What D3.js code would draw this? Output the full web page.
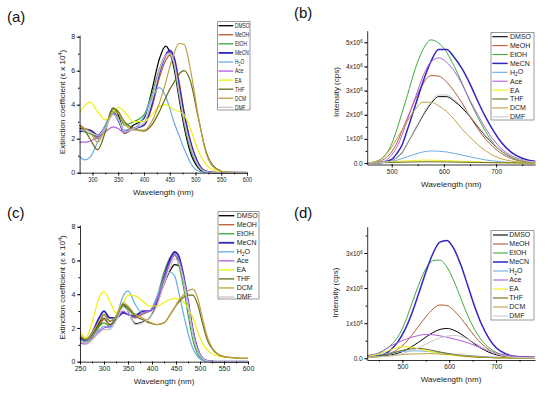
<!DOCTYPE html>
<html>
<head>
<meta charset="utf-8">
<script src="https://cdnjs.cloudflare.com/ajax/libs/d3/7.8.5/d3.min.js"></script>
<style>
  body { margin: 0; background: #fff; }
  svg { display: block; font-family: "Liberation Sans", Arial, sans-serif; }
</style>
</head>
<body>
<svg width="550" height="394"></svg>
<script>
// solvents, in legend order
const solvents = ["DMSO", "MeOH", "EtOH", "MeCN", "H2O", "Ace", "EA", "THF", "DCM", "DMF"];
const colors = ["#000000", "#b85a35", "#3daa3d", "#3225c0", "#6aace6",
                "#b05ee0", "#f0f010", "#6b6b18", "#c0a040", "#c8c8c8"];

// (a) absorption, extinction coefficient x 10^4
const wlA = [275, 285, 295, 310, 325, 340, 350, 362, 380, 400, 415, 430, 442, 450, 458, 468, 478, 490, 505, 520, 540, 560, 600];
const absA = [
  [2.6, 2.55, 2.45, 2.1, 2.7, 3.8, 3.4, 2.4, 2.8, 3.2, 4.8, 6.7, 7.45, 7.1, 6.2, 4.4, 2.7, 1.2, 0.3, 0.03, 0, 0, 0],
  [2.8, 2.6, 2.5, 2.0, 2.6, 3.6, 3.2, 2.3, 2.6, 2.8, 3.8, 5.6, 6.6, 6.9, 6.8, 5.4, 3.6, 1.9, 0.6, 0.1, 0, 0, 0],
  [2.5, 2.4, 2.3, 2.1, 2.8, 3.7, 3.5, 2.8, 3.0, 3.4, 4.6, 6.1, 6.9, 7.0, 6.4, 4.6, 2.9, 1.4, 0.4, 0.05, 0, 0, 0],
  [2.4, 2.5, 2.5, 2.2, 2.7, 3.5, 3.1, 2.4, 2.6, 2.8, 4.0, 5.9, 6.9, 7.2, 6.8, 5.1, 3.4, 1.8, 0.55, 0.08, 0, 0, 0],
  [0.95, 0.75, 0.9, 1.8, 2.8, 3.5, 3.1, 2.5, 2.6, 3.3, 4.4, 5.0, 4.5, 3.8, 3.0, 2.2, 1.4, 0.6, 0.1, 0.02, 0, 0, 0],
  [1.8, 1.8, 1.85, 2.1, 2.4, 2.7, 2.6, 2.35, 2.6, 2.9, 4.2, 6.0, 6.9, 7.1, 6.6, 4.8, 3.1, 1.6, 0.45, 0.07, 0, 0, 0],
  [3.5, 3.95, 4.15, 3.6, 3.1, 3.6, 3.85, 3.6, 3.0, 3.0, 3.4, 3.9, 4.0, 3.9, 3.7, 3.6, 3.4, 2.6, 1.3, 0.5, 0.1, 0.02, 0],
  [2.8, 2.5, 2.0, 1.35, 2.4, 3.8, 3.6, 3.0, 2.6, 2.45, 2.8, 3.6, 4.4, 4.9, 5.3, 5.8, 6.0, 5.4, 3.3, 1.3, 0.25, 0.03, 0],
  [2.7, 2.6, 2.4, 1.8, 2.6, 3.6, 3.5, 2.9, 2.5, 2.5, 3.0, 4.1, 5.3, 6.2, 7.0, 7.6, 7.55, 6.1, 3.4, 1.2, 0.2, 0.03, 0],
  [2.5, 2.5, 2.4, 2.2, 2.6, 3.4, 3.2, 2.4, 2.6, 2.9, 4.2, 6.0, 6.9, 7.0, 6.5, 4.8, 3.1, 1.6, 0.45, 0.07, 0, 0, 0]
];

// (b) emission, intensity in 10^6 cps
const wlB = [453, 475, 490, 500, 510, 520, 530, 545, 560, 575, 590, 605, 620, 635, 650, 665, 680, 695, 710, 730, 750, 775];
const emB = [
  [0, 0.01, 0.04, 0.09, 0.23, 0.44, 0.81, 1.39, 1.97, 2.46, 2.75, 2.75, 2.56, 2.28, 1.92, 1.5, 1.11, 0.78, 0.5, 0.25, 0.12, 0.04],
  [0, 0.05, 0.24, 0.47, 0.84, 1.35, 1.86, 2.63, 3.28, 3.62, 3.6, 3.36, 2.96, 2.48, 1.93, 1.42, 0.99, 0.66, 0.4, 0.18, 0.07, 0.02],
  [0, 0.1, 0.4, 0.8, 1.4, 2.1, 2.8, 3.9, 4.7, 5.1, 4.97, 4.6, 4.0, 3.3, 2.55, 1.9, 1.3, 0.82, 0.5, 0.23, 0.1, 0.03],
  [0, 0.01, 0.07, 0.15, 0.4, 0.76, 1.38, 2.37, 3.37, 4.2, 4.7, 4.7, 4.37, 3.9, 3.28, 2.56, 1.9, 1.33, 0.86, 0.43, 0.2, 0.07],
  [0, 0.01, 0.035, 0.07, 0.12, 0.19, 0.26, 0.37, 0.46, 0.5, 0.49, 0.46, 0.4, 0.33, 0.26, 0.19, 0.13, 0.085, 0.05, 0.025, 0.01, 0],
  [0, 0.02, 0.12, 0.35, 0.67, 1.17, 1.8, 2.7, 3.6, 4.18, 4.35, 4.18, 3.8, 3.26, 2.6, 2.0, 1.43, 0.96, 0.6, 0.3, 0.13, 0.04],
  [0.01, 0.02, 0.04, 0.05, 0.07, 0.08, 0.09, 0.11, 0.12, 0.12, 0.11, 0.1, 0.09, 0.07, 0.06, 0.05, 0.035, 0.025, 0.015, 0.01, 0.005, 0],
  [0.01, 0.015, 0.02, 0.025, 0.03, 0.035, 0.04, 0.045, 0.05, 0.05, 0.05, 0.045, 0.04, 0.035, 0.03, 0.025, 0.02, 0.015, 0.01, 0.008, 0.005, 0],
  [0, 0.11, 0.38, 0.66, 1.02, 1.38, 1.73, 2.22, 2.52, 2.52, 2.37, 2.14, 1.8, 1.4, 1.07, 0.76, 0.51, 0.31, 0.18, 0.08, 0.03, 0],
  [0, 0.01, 0.04, 0.09, 0.24, 0.46, 0.83, 1.42, 2.02, 2.52, 2.82, 2.82, 2.62, 2.34, 1.97, 1.54, 1.14, 0.8, 0.52, 0.26, 0.12, 0.04]
];

// (c) absorption
const wlC = [250, 262, 275, 290, 300, 312, 325, 340, 350, 365, 380, 395, 410, 425, 438, 447, 455, 465, 475, 485, 495, 505, 515, 530, 550, 575, 600];
const absC = [
  [1.4, 1.2, 1.6, 2.3, 2.8, 2.4, 2.6, 3.4, 3.0, 2.25, 2.35, 2.6, 3.4, 4.6, 5.4, 5.75, 5.7, 4.9, 3.5, 1.8, 0.7, 0.2, 0.05, 0, 0, 0, 0],
  [1.2, 1.1, 1.4, 2.1, 2.5, 2.2, 2.5, 2.9, 2.8, 2.6, 2.8, 3.0, 3.5, 4.8, 5.9, 6.3, 6.0, 5.0, 3.5, 1.8, 0.7, 0.2, 0.05, 0, 0, 0, 0],
  [1.3, 1.2, 1.5, 2.1, 2.3, 2.1, 2.7, 3.3, 3.1, 2.8, 2.9, 3.0, 3.8, 5.3, 6.2, 6.4, 5.8, 4.5, 2.8, 1.3, 0.45, 0.12, 0.03, 0, 0, 0, 0],
  [1.4, 1.25, 1.7, 2.6, 3.0, 2.6, 2.6, 2.9, 2.8, 2.7, 3.0, 3.0, 3.6, 5.0, 6.1, 6.5, 6.3, 5.2, 3.6, 1.9, 0.75, 0.22, 0.05, 0, 0, 0, 0],
  [1.3, 1.2, 1.5, 1.9, 2.1, 2.0, 2.6, 3.9, 4.2, 3.4, 2.9, 3.0, 3.8, 4.9, 5.3, 5.1, 4.2, 2.9, 1.7, 0.8, 0.3, 0.08, 0.02, 0, 0, 0, 0],
  [1.1, 1.05, 1.3, 1.8, 2.0, 2.1, 2.5, 3.0, 2.8, 2.6, 2.9, 3.0, 3.6, 4.9, 5.9, 6.3, 6.1, 5.1, 3.6, 1.9, 0.75, 0.22, 0.05, 0, 0, 0, 0],
  [1.85, 1.4, 2.3, 3.8, 4.15, 3.6, 2.9, 3.5, 3.95, 3.9, 3.6, 3.3, 3.3, 3.5, 3.7, 3.75, 3.7, 3.55, 3.2, 2.6, 1.8, 1.1, 0.7, 0.4, 0.28, 0.22, 0.2],
  [1.5, 1.3, 1.6, 2.2, 2.6, 2.2, 2.5, 3.4, 3.2, 2.7, 2.5, 2.3, 2.2, 2.3, 2.8, 3.2, 3.5, 3.8, 3.95, 3.95, 3.4, 2.3, 1.3, 0.6, 0.3, 0.22, 0.2],
  [1.6, 1.35, 1.7, 2.4, 2.8, 2.4, 2.7, 3.5, 3.3, 2.8, 2.6, 2.35, 2.2, 2.3, 2.8, 3.2, 3.6, 3.95, 4.2, 4.3, 3.8, 2.6, 1.5, 0.65, 0.3, 0.22, 0.2],
  [1.2, 1.1, 1.3, 1.7, 1.9, 1.9, 2.4, 3.2, 3.0, 2.2, 2.3, 2.6, 3.3, 4.6, 5.6, 6.1, 5.9, 4.9, 3.4, 1.7, 0.65, 0.2, 0.05, 0, 0, 0, 0]
];

// (d) emission, 10^6 cps
const wlD = [425, 450, 475, 490, 505, 520, 535, 550, 565, 580, 595, 610, 625, 640, 655, 670, 685, 700, 720, 745, 783];
const emD = [
  [0.03, 0.05, 0.09, 0.14, 0.22, 0.33, 0.46, 0.6, 0.73, 0.82, 0.85, 0.8, 0.69, 0.55, 0.4, 0.27, 0.17, 0.1, 0.05, 0.02, 0.01],
  [0.05, 0.08, 0.15, 0.25, 0.42, 0.65, 0.92, 1.18, 1.4, 1.52, 1.5, 1.36, 1.14, 0.88, 0.62, 0.4, 0.24, 0.13, 0.06, 0.03, 0.02],
  [0.08, 0.15, 0.37, 0.6, 1.0, 1.55, 2.1, 2.55, 2.78, 2.8, 2.6, 2.2, 1.7, 1.2, 0.8, 0.5, 0.3, 0.17, 0.08, 0.04, 0.02],
  [0.05, 0.07, 0.24, 0.46, 0.8, 1.27, 1.85, 2.45, 2.98, 3.31, 3.36, 3.12, 2.65, 2.05, 1.45, 0.94, 0.56, 0.3, 0.13, 0.05, 0.03],
  [0.06, 0.1, 0.15, 0.18, 0.2, 0.21, 0.21, 0.2, 0.18, 0.16, 0.14, 0.12, 0.1, 0.08, 0.065, 0.05, 0.04, 0.03, 0.02, 0.015, 0.01],
  [0.07, 0.15, 0.35, 0.45, 0.53, 0.6, 0.65, 0.68, 0.67, 0.64, 0.6, 0.55, 0.5, 0.44, 0.36, 0.28, 0.21, 0.15, 0.09, 0.05, 0.02],
  [0.05, 0.12, 0.24, 0.31, 0.33, 0.31, 0.27, 0.22, 0.17, 0.13, 0.1, 0.08, 0.06, 0.045, 0.035, 0.025, 0.02, 0.015, 0.01, 0.01, 0.005],
  [0.03, 0.06, 0.13, 0.19, 0.24, 0.27, 0.28, 0.26, 0.22, 0.18, 0.14, 0.1, 0.07, 0.05, 0.035, 0.025, 0.02, 0.01, 0.01, 0.005, 0],
  [0.02, 0.04, 0.07, 0.09, 0.11, 0.12, 0.125, 0.13, 0.13, 0.12, 0.11, 0.1, 0.08, 0.065, 0.05, 0.035, 0.025, 0.015, 0.01, 0.005, 0],
  [0.03, 0.04, 0.07, 0.1, 0.15, 0.22, 0.3, 0.4, 0.5, 0.58, 0.63, 0.65, 0.62, 0.54, 0.43, 0.31, 0.21, 0.13, 0.06, 0.025, 0.01]
];

const svg = d3.select("svg");
svg.append("rect").attr("width", 550).attr("height", 394).attr("fill", "#fff");

function sup(sel, base, exp) {
  sel.text(null);
  sel.append("tspan").text(base);
  sel.append("tspan").attr("dy", "-0.45em").attr("font-size", "0.7em").text(exp);
}

function panel(p) {
  const g = svg.append("g");
  const x = d3.scaleLinear().domain(p.xd).range(p.xr);
  const y = d3.scaleLinear().domain(p.yd).range(p.yr);
  const y0 = p.yr[0];

  // curves
  const line = d3.line()
    .x((d, j) => x(p.wl[j]))
    .y(d => y(d))
    .curve(d3.curveMonotoneX);
  p.series.forEach((vals, i) => {
    g.append("path")
      .attr("d", line(vals))
      .attr("fill", "none")
      .attr("stroke", colors[i])
      .attr("stroke-width", solvents[i] === "MeCN" ? p.lw * 1.5 : p.lw)
      .attr("stroke-linejoin", "round");
  });

  // minor ticks
  g.append("g")
    .attr("transform", `translate(0,${y0})`)
    .call(d3.axisBottom(x).tickValues(p.xminor).tickSize(1.6).tickFormat(""))
    .call(a => a.select(".domain").remove());
  g.append("g")
    .attr("transform", `translate(${p.xr[0]},0)`)
    .call(d3.axisLeft(y).tickValues(p.yminor).tickSize(1.6).tickFormat(""))
    .call(a => a.select(".domain").remove());

  // axes
  const gx = g.append("g")
    .attr("transform", `translate(0,${y0})`)
    .call(d3.axisBottom(x).tickValues(p.xticks).tickSize(3).tickPadding(1.5).tickSizeOuter(0));
  const gy = g.append("g")
    .attr("transform", `translate(${p.xr[0]},0)`)
    .call(d3.axisLeft(y).tickValues(p.yticks).tickSize(3).tickPadding(1.5).tickSizeOuter(0));
  [gx, gy].forEach(a => {
    a.selectAll("text").attr("font-family", null).attr("font-size", p.fs).attr("fill", "#222");
    a.selectAll("line,path").attr("stroke", "#000").attr("stroke-width", 0.8);
  });
  if (p.squeeze) gx.selectAll(".tick text").attr("transform", `scale(${p.squeeze},1)`);
  if (p.sci) {
    gy.selectAll(".tick text").each(function(d) {
      if (d === 0) return;
      sup(d3.select(this), d + "x10", "6");
    });
  }

  // axis titles
  g.append("text")
    .attr("x", (p.xr[0] + p.xr[1]) / 2).attr("y", p.xtitleY)
    .attr("text-anchor", "middle").attr("font-size", 8).attr("fill", "#222")
    .text("Wavelength (nm)");
  const yt = g.append("text")
    .attr("transform", `translate(${p.ytitleX},${p.ytitleY}) rotate(-90)`)
    .attr("text-anchor", "middle").attr("font-size", 8).attr("fill", "#222");
  if (p.sci) {
    yt.text("Intensity (cps)");
  } else {
    yt.append("tspan").text("Extinction coefficient (\u03b5 x 10");
    yt.append("tspan").attr("dy", "-0.45em").attr("font-size", "0.7em").text("4");
    yt.append("tspan").attr("dy", "0.32em").text(")");
  }

  // panel label
  svg.append("text")
    .attr("x", p.label[0]).attr("y", p.label[1])
    .attr("font-size", 15).attr("fill", "#111")
    .text(p.name);

  // legend
  const L = p.legend;
  const lg = svg.append("g").attr("transform", `translate(${L.x},${L.y})`);
  lg.append("rect")
    .attr("width", L.w).attr("height", L.h)
    .attr("fill", "#fff").attr("stroke", "#555").attr("stroke-width", 0.6);
  solvents.forEach((s, i) => {
    const yy = L.first + i * L.step;
    lg.append("line")
      .attr("x1", L.l1).attr("x2", L.l2).attr("y1", yy).attr("y2", yy)
      .attr("stroke", colors[i])
      .attr("stroke-width", s === "MeCN" ? p.lw * 1.5 : p.lw * 1.1);
    const t = lg.append("text")
      .attr("transform", `translate(${L.tx},${yy + 2.4}) scale(${L.sx},1)`)
      .attr("font-size", 7).attr("fill", "#222");
    if (s === "H2O") {
      t.append("tspan").text("H");
      t.append("tspan").attr("dy", "0.3em").attr("font-size", "0.7em").text("2");
      t.append("tspan").attr("dy", "-0.3em").text("O");
    } else {
      t.text(s);
    }
  });
}

panel({
  name: "(a)", label: [7, 22], wl: wlA, series: absA, lw: 1.2,
  xd: [275, 600], xr: [79.6, 247], yd: [0, 8.1], yr: [172.7, 35],
  xticks: [300, 350, 400, 450, 500, 550, 600], xminor: d3.range(275, 601, 25),
  yticks: [0, 2, 4, 6, 8], yminor: d3.range(0, 8.1, 1), fs: 7, squeeze: 0.8,
  xtitleY: 195, ytitleX: 64.5, ytitleY: 102,
  legend: { x: 217.7, y: 21.7, w: 32.3, h: 88.3, first: 4, step: 9.07, l1: 0.8, l2: 15.5, tx: 17.3, sx: 0.7 }
});

panel({
  name: "(b)", label: [294, 18], wl: wlB, series: emB, lw: 1.0, sci: true,
  xd: [453, 775], xr: [367.2, 535.2], yd: [-0.06, 5.48], yr: [164.5, 30.7],
  xticks: [500, 600, 700], xminor: [500, 550, 600, 650, 700, 750],
  yticks: [0, 1, 2, 3, 4, 5], yminor: d3.range(0, 5.4, 0.5), fs: 6.5,
  xtitleY: 187, ytitleX: 338.5, ytitleY: 92,
  legend: { x: 491, y: 32.3, w: 43, h: 87.7, first: 4.4, step: 8.9, l1: 1.3, l2: 16.7, tx: 19, sx: 1 }
});

panel({
  name: "(c)", label: [7, 218], wl: wlC, series: absC, lw: 1.2,
  xd: [250, 600], xr: [80, 248], yd: [0, 8.1], yr: [361.7, 225],
  xticks: [250, 300, 350, 400, 450, 500, 550, 600], xminor: d3.range(250, 601, 25),
  yticks: [0, 2, 4, 6, 8], yminor: d3.range(0, 8.1, 1), fs: 7,
  xtitleY: 384, ytitleX: 64.5, ytitleY: 287.5,
  legend: { x: 218, y: 211.7, w: 41, h: 87.3, first: 4, step: 9.03, l1: 0.8, l2: 16.3, tx: 18.7, sx: 1 }
});

panel({
  name: "(d)", label: [294, 218], wl: wlD, series: emD, lw: 1.0, sci: true,
  xd: [425, 783], xr: [367.2, 535], yd: [-0.05, 3.75], yr: [360, 226.7],
  xticks: [500, 600, 700], xminor: [450, 500, 550, 600, 650, 700, 750],
  yticks: [0, 1, 2, 3], yminor: d3.range(0, 3.7, 0.5), fs: 6.5,
  xtitleY: 382, ytitleX: 338, ytitleY: 292.5,
  legend: { x: 491, y: 230.7, w: 43, h: 89.3, first: 4.3, step: 9.0, l1: 2, l2: 17, tx: 18.3, sx: 1 }
});
</script>
</body>
</html>
